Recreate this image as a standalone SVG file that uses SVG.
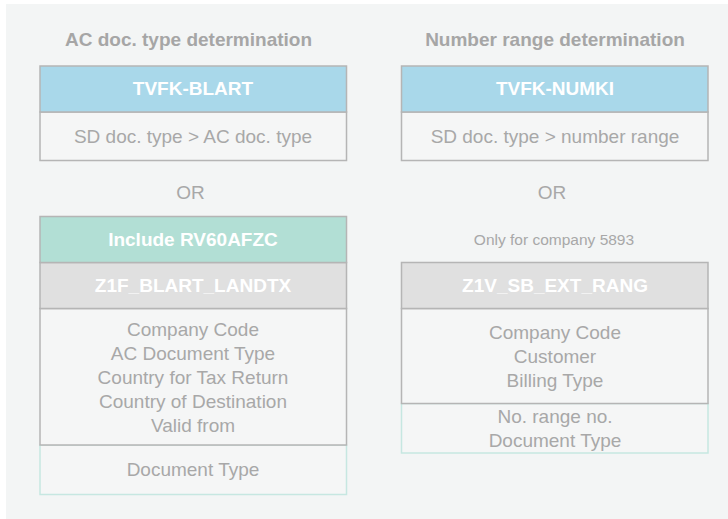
<svg xmlns="http://www.w3.org/2000/svg" width="728" height="519" viewBox="0 0 728 519">
<style>
.t{font-family:"Liberation Sans",Arial,sans-serif;text-anchor:middle;}
.title{font-size:19px;font-weight:bold;fill:#a6a6a6;}
.hdr{font-size:19px;font-weight:bold;fill:#ffffff;}
.txt{font-size:19px;fill:#a8a8a8;}
.small{font-size:15.5px;fill:#a8a8a8;}
.blue{fill:#a9d8ea;stroke:#b5b5b5;stroke-width:1.5;}
.teal{fill:#b2dfd5;stroke:#b5b5b5;stroke-width:1.5;}
.gray{fill:#e0e0e0;stroke:#b5b5b5;stroke-width:1.5;}
.body{fill:#f5f6f6;stroke:#b5b5b5;stroke-width:1.5;}
.tbody{fill:#f5f6f6;stroke:#c6e7e1;stroke-width:1.5;}
</style>
<rect x="6" y="4" width="722" height="515" fill="#f3f5f5"/>
<text class="t title" x="188.5" y="46">AC doc. type determination</text>
<text class="t title" x="555" y="46">Number range determination</text>
<g id="tvfk-blart">
<rect class="body" x="40" y="112" width="306.5" height="48.5"/>
<rect class="blue" x="40" y="66" width="306.5" height="46"/>
<text class="t hdr" x="193" y="95">TVFK-BLART</text>
<text class="t txt" x="193" y="143">SD doc. type &gt; AC doc. type</text>
</g>
<g id="tvfk-numki">
<rect class="body" x="401.5" y="112" width="306.5" height="48.5"/>
<rect class="blue" x="401.5" y="66" width="306.5" height="46"/>
<text class="t hdr" x="555" y="95">TVFK-NUMKI</text>
<text class="t txt" x="555" y="143">SD doc. type &gt; number range</text>
</g>
<text class="t txt" x="190.5" y="199">OR</text>
<text class="t txt" x="552" y="199">OR</text>
<text class="t small" x="554" y="245">Only for company 5893</text>
<g id="z1f-blart-landtx">
<rect class="tbody" x="40" y="445" width="306.5" height="49.5"/>
<rect class="body" x="40" y="308.5" width="306.5" height="136.5"/>
<rect class="gray" x="40" y="262.5" width="306.5" height="46"/>
<rect class="teal" x="40" y="216.5" width="306.5" height="46"/>
<text class="t hdr" x="193" y="245.5">Include RV60AFZC</text>
<text class="t hdr" x="193" y="292">Z1F_BLART_LANDTX</text>
<text class="t txt" x="193" y="336">Company Code</text>
<text class="t txt" x="193" y="360">AC Document Type</text>
<text class="t txt" x="193" y="384">Country for Tax Return</text>
<text class="t txt" x="193" y="408">Country of Destination</text>
<text class="t txt" x="193" y="432">Valid from</text>
<text class="t txt" x="193" y="476">Document Type</text>
</g>
<g id="z1v-sb-ext-rang">
<rect class="tbody" x="401.5" y="403.5" width="306.5" height="49.5"/>
<rect class="body" x="401.5" y="308.5" width="306.5" height="95"/>
<rect class="gray" x="401.5" y="262.5" width="306.5" height="46"/>
<text class="t hdr" x="555" y="292">Z1V_SB_EXT_RANG</text>
<text class="t txt" x="555" y="339">Company Code</text>
<text class="t txt" x="555" y="363">Customer</text>
<text class="t txt" x="555" y="387">Billing Type</text>
<text class="t txt" x="555" y="423">No. range no.</text>
<text class="t txt" x="555" y="447">Document Type</text>
</g>
<g id="connectors"></g>
</svg>
